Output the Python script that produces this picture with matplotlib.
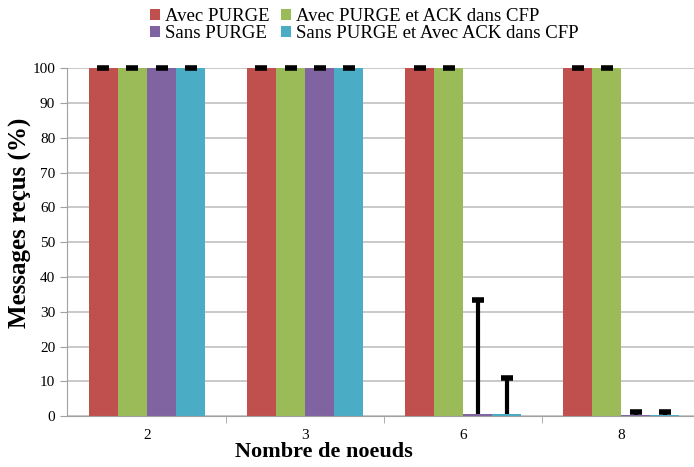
import matplotlib.pyplot as plt
import numpy as np

plt.rcParams['font.family'] = ['Liberation Serif', 'DejaVu Serif']

noeuds = ['2', '3', '6', '8']
series = ['Avec PURGE', 'Avec PURGE et ACK dans CFP', 'Sans PURGE',
          'Sans PURGE et Avec ACK dans CFP']
avec_purge = [100, 100, 100, 100]
avec_purge_ack = [100, 100, 100, 100]
sans_purge = [100, 100, 0.5, 0.3]
sans_purge_ack = [100, 100, 0.5, 0.3]
err_avec_purge = [0, 0, 0, 0]
err_avec_purge_ack = [0, 0, 0, 0]
err_sans_purge = [0, 0, 33.0, 0.9]
err_sans_purge_ack = [0, 0, 10.5, 0.9]

colors = ['#C0504D', '#9BBB59', '#8064A2', '#4BACC6']
values = [avec_purge, avec_purge_ack, sans_purge, sans_purge_ack]
errors = [err_avec_purge, err_avec_purge_ack, err_sans_purge, err_sans_purge_ack]

fig = plt.figure(figsize=(6.94, 4.67), dpi=100)
ax = fig.add_axes([0.0965, 0.109, 0.9035, 0.745])

x = np.arange(len(noeuds))
w = 0.184
bars = []
for i, (vals, errs, c, lab) in enumerate(zip(values, errors, colors, series)):
    pos = x + (i - 1.5) * w
    b = ax.bar(pos, vals, w, color=c, label=lab, zorder=2)
    bars.append(b)
    tops = np.array(vals) + np.array(errs)
    ax.vlines(pos, vals, tops, color='black', linewidth=3, zorder=3)
    ax.plot(pos, tops, linestyle='none', marker='_', markersize=8,
            markeredgewidth=4, color='black', zorder=4, clip_on=False)

ax.set_xlim(-0.506, 3.46)
ax.set_ylim(0, 100)
ax.set_yticks(range(0, 101, 10))
ax.yaxis.grid(True, color='#c0c0c0', linewidth=1.2, zorder=0)
ax.set_axisbelow(True)
ax.set_xticks(x)
ax.set_xticklabels(noeuds, fontsize=11)
ax.tick_params(axis='x', length=0, pad=9)
ax.set_xticks(np.arange(0.5, 3, 1), minor=True)
ax.tick_params(axis='x', which='minor', length=5, color='#a0a0a0')
ax.tick_params(axis='y', labelsize=11, length=5, color='#a0a0a0')
for s in ['top', 'right']:
    ax.spines[s].set_visible(False)
ax.spines['left'].set_color('#a0a0a0')
ax.spines['bottom'].set_color('#a0a0a0')

ax.set_ylabel('Messages reçus (%)', fontsize=18, fontweight='bold')
ax.yaxis.set_label_coords(-0.055, 0.555)
ax.set_xlabel('Nombre de noeuds', fontsize=16, fontweight='bold')
ax.xaxis.set_label_coords(0.41, -0.075)

handles = [bars[0], bars[2], bars[1], bars[3]]
labels = [series[0], series[2], series[1], series[3]]
fig.legend(handles, labels, ncol=2, loc='upper center', bbox_to_anchor=(0.525, 1.018),
           frameon=False, fontsize=13.5, handlelength=0.55, handleheight=0.55,
           handletextpad=0.25, columnspacing=0.6, labelspacing=0.0)

fig.savefig('out.png', dpi=100)
